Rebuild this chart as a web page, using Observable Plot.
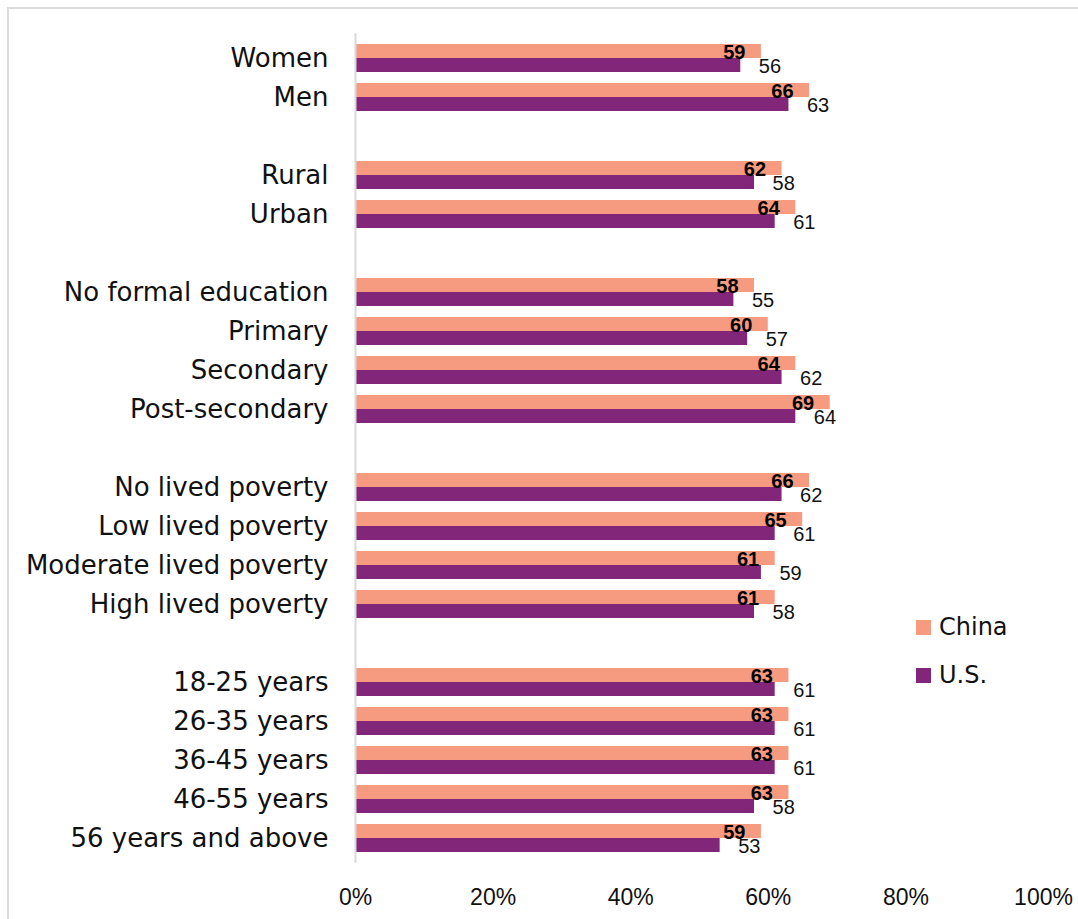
<!DOCTYPE html>
<html>
<head>
<meta charset="utf-8">
<script src="https://cdn.jsdelivr.net/npm/d3@7"></script>
<script src="https://cdn.jsdelivr.net/npm/@observablehq/plot@0.6"></script>
<style>
  html, body { margin: 0; padding: 0; background: #fff; overflow: hidden; }
  #wrap { position: relative; width: 1078px; height: 919px; }
  #frame { position: absolute; left: 7px; top: 7px; width: 1200px; height: 1000px; border: 2px solid #dcdcdc; box-sizing: border-box; }
  #chart { position: absolute; left: 0; top: 0; }
  .legend { position: absolute; left: 916px; font-family: "DejaVu Sans", sans-serif; font-size: 24px; color: #111; display: flex; align-items: center; }
  .legend span.sw { display: inline-block; width: 15px; height: 15px; margin-right: 8px; }
</style>
</head>
<body>
<div id="wrap">
  <div id="frame"></div>
  <div id="chart"></div>
  <div class="legend" id="lgChina" style="top:613px;"><span class="sw" style="background:#F79B80"></span><span>China</span></div>
  <div class="legend" id="lgUS" style="top:661px;"><span class="sw" style="background:#82267A"></span><span>U.S.</span></div>
</div>
<script>
// Rows (gapN = empty spacer rows between groups)
const categories = [
  "Women", "Men", "gap1",
  "Rural", "Urban", "gap2",
  "No formal education", "Primary", "Secondary", "Post-secondary", "gap3",
  "No lived poverty", "Low lived poverty", "Moderate lived poverty", "High lived poverty", "gap4",
  "18-25 years", "26-35 years", "36-45 years", "46-55 years", "56 years and above"
];
const chinaValues = [59, 66, null, 62, 64, null, 58, 60, 64, 69, null, 66, 65, 61, 61, null, 63, 63, 63, 63, 59];
const usValues    = [56, 63, null, 58, 61, null, 55, 57, 62, 64, null, 62, 61, 59, 58, null, 61, 61, 61, 58, 53];
const xTicks = [0, 20, 40, 60, 80, 100];
const seriesNames = ["China", "U.S."];
const seriesColors = ["#F79B80", "#82267A"];

const data = categories
  .map((cat, i) => ({cat, china: chinaValues[i], us: usValues[i]}))
  .filter(d => d.china != null);

const W = 1078, H = 919, mt = 33, mb = 56, ml = 355, mr = 35;
const pIn = 0.287, pOut = 0.217;
const step = (H - mt - mb) / (categories.length - pIn + 2 * pOut);
const bw = step * (1 - pIn);
const half = bw / 2;

const labelFont = "Liberation Sans, Arial, sans-serif";
const catFont = "DejaVu Sans, sans-serif";

const chart = Plot.plot({
  width: W,
  height: H,
  marginTop: mt,
  marginBottom: mb,
  marginLeft: ml,
  marginRight: mr,
  style: {background: "transparent", color: "#111"},
  x: {domain: [0, 100]},
  y: {domain: categories, paddingInner: pIn, paddingOuter: pOut},
  marks: [
    Plot.barX(data, {y: "cat", x: "china", fill: seriesColors[0], insetBottom: half}),
    Plot.barX(data, {y: "cat", x: "us", fill: seriesColors[1], insetTop: half}),
    Plot.ruleX([0], {stroke: "#d9d9d9", strokeWidth: 2}),
    Plot.text(data, {y: "cat", x: "china", text: d => String(d.china), textAnchor: "end", dx: -16, dy: -half / 2 + 1,
      fontWeight: "bold", fontSize: 20, fontFamily: labelFont, fill: "#000"}),
    Plot.text(data, {y: "cat", x: "us", text: d => String(d.us), textAnchor: "start", dx: 18, dy: half / 2 + 1,
      fontSize: 20, fontFamily: labelFont, fill: "#111"}),
    Plot.axisY({tickSize: 0, tickPadding: 27, fontSize: 26, fontFamily: catFont, fill: "#111",
      tickFormat: d => d.startsWith("gap") ? "" : d, label: null}),
    Plot.axisX({ticks: xTicks, tickFormat: d => d + "%", tickSize: 0, tickPadding: 25, fontSize: 23,
      fontFamily: labelFont, fill: "#111", label: null})
  ]
});
document.getElementById("chart").appendChild(chart);
</script>
</body>
</html>
